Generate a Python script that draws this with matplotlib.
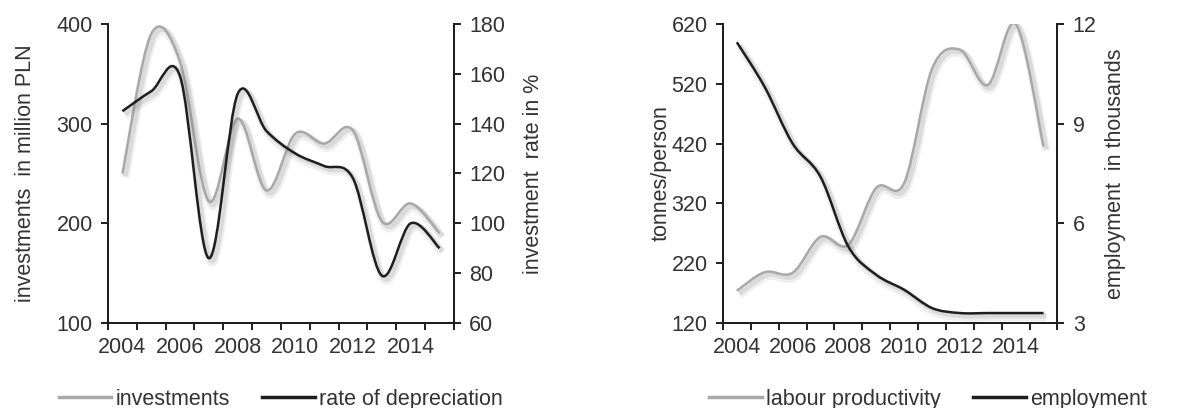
import matplotlib
matplotlib.use("Agg")
import matplotlib.pyplot as plt
import matplotlib.patheffects as pe
from matplotlib.path import Path
from matplotlib.patches import PathPatch
from matplotlib.lines import Line2D

plt.rcParams['font.family'] = ['Liberation Sans', 'DejaVu Sans']

# data
years = list(range(2004, 2016))
investments = [250, 390, 362, 222, 305, 233, 290, 280, 293, 202, 220, 190]
depreciation = [145, 153, 159, 86, 152, 137, 128, 123, 118, 79, 100, 90]
productivity = [174, 205, 204, 264, 251, 346, 354, 545, 577, 518, 620, 415]
employment = [11.45, 10.1, 8.4, 7.4, 5.3, 4.45, 4.0, 3.45, 3.3, 3.3, 3.3, 3.3]

GREY = '#a8a8a8'
DARK = '#1e1e1e'
TXT = '#333333'
FS = 15.5


def smooth_path(x, y):
    # excel style smoothed line: bezier through every point
    pts = list(zip(x, y))
    n = len(pts)
    verts = [pts[0]]
    codes = [Path.MOVETO]
    for i in range(n - 1):
        p0 = pts[max(i - 1, 0)]
        p1 = pts[i]
        p2 = pts[i + 1]
        p3 = pts[min(i + 2, n - 1)]
        c1 = (p1[0] + (p2[0] - p0[0]) / 6, p1[1] + (p2[1] - p0[1]) / 6)
        c2 = (p2[0] - (p3[0] - p1[0]) / 6, p2[1] - (p3[1] - p1[1]) / 6)
        verts += [c1, c2, p2]
        codes += [Path.CURVE4] * 3
    return Path(verts, codes)


def draw(ax, y, color):
    x = list(range(len(y)))
    patch = PathPatch(smooth_path(x, y), fill=False, edgecolor=color, lw=1.8,
                      path_effects=[pe.SimpleLineShadow(offset=(2, -3), shadow_color='0.5', alpha=0.12, linewidth=6),
                                    pe.SimpleLineShadow(offset=(2, -2), shadow_color='0.5', alpha=0.18, linewidth=3.5),
                                    pe.Normal()])
    ax.add_patch(patch)


def style(ax, ax2, ylim, yticks, ylim2, yticks2, ylab, ylab2, names, legx, pads):
    for a in (ax, ax2):
        a.spines['top'].set_visible(False)
        for s in ('left', 'right', 'bottom'):
            a.spines[s].set_color(DARK)
            a.spines[s].set_linewidth(1.4)
        a.tick_params(axis='y', length=5, width=1.4, color=DARK, labelsize=FS, labelcolor=TXT, pad=6)
    ax.set_xlim(-0.5, len(years) - 0.5)
    ax.set_xticks(range(0, len(years), 2))
    ax.set_xticklabels([str(v) for v in years[::2]])
    ax.set_xticks([i - 0.5 for i in range(len(years) + 1)], minor=True)
    ax.tick_params(axis='x', which='major', length=0, labelsize=FS, labelcolor=TXT, pad=10)
    ax.tick_params(axis='x', which='minor', length=5, width=1.4, color=DARK)
    ax.set_ylim(*ylim)
    ax.set_yticks(yticks)
    ax2.set_ylim(*ylim2)
    ax2.set_yticks(yticks2)
    ax.set_ylabel(ylab, fontsize=FS, color=TXT, labelpad=pads[0])
    ax2.set_ylabel(ylab2, fontsize=FS, color=TXT, labelpad=pads[1])
    handles = [Line2D([], [], color=GREY, lw=2.5), Line2D([], [], color=DARK, lw=2.5)]
    ax.legend(handles, names, loc='upper center', bbox_to_anchor=(legx, -0.155), ncol=2,
              frameon=False, fontsize=FS, handlelength=2.45, handletextpad=0.2,
              columnspacing=1.5, labelcolor=TXT)


fig = plt.figure(figsize=(11.89, 4.08), dpi=100)

ax1 = fig.add_axes([0.0908, 0.2083, 0.291, 0.733])
ax1b = ax1.twinx()
draw(ax1, investments, GREY)
draw(ax1b, depreciation, DARK)
style(ax1, ax1b, (100, 400), [100, 200, 300, 400], (60, 180), [60, 80, 100, 120, 140, 160, 180],
      'investments  in million PLN', 'investment  rate in %',
      ['investments', 'rate of depreciation'], 0.5, (15, 13))

ax2 = fig.add_axes([0.608, 0.2083, 0.2814, 0.733])
ax2b = ax2.twinx()
draw(ax2, productivity, GREY)
draw(ax2b, employment, DARK)
style(ax2, ax2b, (120, 620), [120, 220, 320, 420, 520, 620], (3, 12), [3, 6, 9, 12],
      'tonnes/person', 'employment  in thousands',
      ['labour productivity', 'employment'], 0.614, (0, 6))

fig.savefig('out.png', dpi=100)
